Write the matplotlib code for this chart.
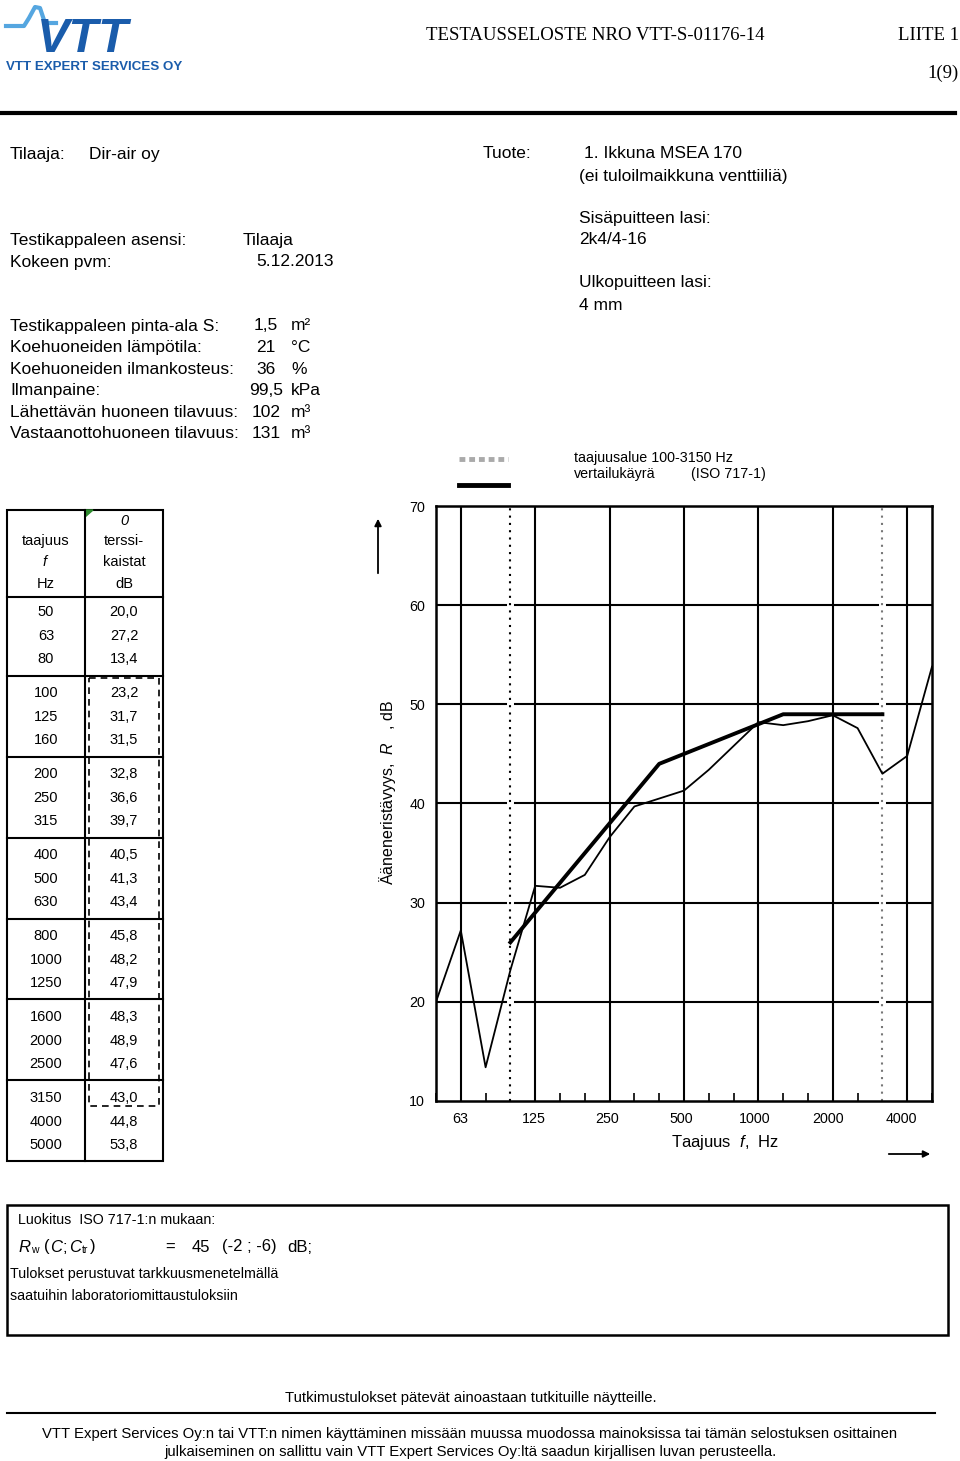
import matplotlib
matplotlib.use("Agg")
import matplotlib.pyplot as plt
from matplotlib.patches import Rectangle, Polygon

plt.rcParams['font.family'] = ['Liberation Sans', 'DejaVu Sans']
plt.rcParams['mathtext.fontset'] = 'custom'
plt.rcParams['mathtext.rm'] = 'Liberation Sans'
plt.rcParams['mathtext.it'] = 'Liberation Sans:italic'

# third-octave bands and measured sound reduction index
bands = [50, 63, 80, 100, 125, 160, 200, 250, 315, 400, 500, 630,
         800, 1000, 1250, 1600, 2000, 2500, 3150, 4000, 5000]
r_measured = [20.0, 27.2, 13.4, 23.2, 31.7, 31.5, 32.8, 36.6, 39.7, 40.5, 41.3,
              43.4, 45.8, 48.2, 47.9, 48.3, 48.9, 47.6, 43.0, 44.8, 53.8]
# shifted ISO 717-1 reference curve (Rw = 45), 100...3150 Hz
ref_bands = [100, 125, 160, 200, 250, 315, 400, 500, 630, 800, 1000, 1250,
             1600, 2000, 2500, 3150]
ref_values = [26, 29, 32, 35, 38, 41, 44, 45, 46, 47, 48, 49, 49, 49, 49, 49]
x_labels = [63, 125, 250, 500, 1000, 2000, 4000]
y_ticks = [10, 20, 30, 40, 50, 60, 70]
range_limits = [100, 3150]

info_left = [("Testikappaleen pinta-ala S:", "1,5", "m²"),
             ("Koehuoneiden lämpötila:", "21", "°C"),
             ("Koehuoneiden ilmankosteus:", "36", "%"),
             ("Ilmanpaine:", "99,5", "kPa"),
             ("Lähettävän huoneen tilavuus:", "102", "m³"),
             ("Vastaanottohuoneen tilavuus:", "131", "m³")]

W, H = 960, 1461
fig = plt.figure(figsize=(W / 100, H / 100), dpi=100)
fig.patch.set_facecolor('white')

# page overlay in pixel coordinates
pg = fig.add_axes([0, 0, 1, 1])
pg.set_xlim(0, W)
pg.set_ylim(H, 0)
pg.axis('off')

BODY = 12.5

def txt(x, y, s, size=BODY, **kw):
    kw.setdefault('va', 'center')
    pg.text(x, y, s, fontsize=size, **kw)

# logo
light_blue = '#55a6e0'
dark_blue = '#1a5cab'
pg.plot([6, 24, 29, 35, 40, 45, 56], [26, 26, 18, 7, 8, 23, 23], color=light_blue, lw=3)
pg.text(37, 39, "VTT", fontsize=35, fontweight='bold', style='italic', color=dark_blue,
        va='center', ha='left')
pg.text(6, 67, "VTT EXPERT SERVICES OY", fontsize=9.6, fontweight='bold', color=dark_blue,
        va='center')

# header
txt(426, 35, "TESTAUSSELOSTE NRO VTT-S-01176-14", size=13.5, family='Liberation Serif')
txt(959, 35, "LIITE 1", size=13.5, family='Liberation Serif', ha='right')
txt(959, 73, "1(9)", size=13.5, family='Liberation Serif', ha='right')
pg.plot([0, 955], [113, 113], color='black', lw=3)

# info block
txt(10, 154, "Tilaaja:")
txt(89, 154, "Dir-air oy")
txt(483, 154, "Tuote:")
txt(584, 154, "1. Ikkuna MSEA 170")
txt(579, 176, "(ei tuloilmaikkuna venttiiliä)")
txt(579, 219, "Sisäpuitteen lasi:")
txt(579, 240, "2k4/4-16")
txt(579, 283, "Ulkopuitteen lasi:")
txt(579, 305, "4 mm")
txt(10, 240, "Testikappaleen asensi:")
txt(243, 240, "Tilaaja")
txt(10, 262, "Kokeen pvm:")
txt(256, 262, "5.12.2013")
for i, (label, val, unit) in enumerate(info_left):
    y = 326 + i * 21.6
    txt(10, y, label)
    txt(266, y, val, ha='center')
    txt(291, y, unit)

# legend
pg.plot([459, 508], [459, 459], color='#aaaaaa', lw=3.5, ls=(0, (1.2, 0.8)))
pg.plot([459, 508], [485, 485], color='black', lw=3.5)
txt(574, 458, "taajuusalue 100-3150 Hz", size=10.3)
txt(574, 474, "vertailukäyrä", size=10.3)
txt(691, 474, "(ISO 717-1)", size=10.3)

# table
TS = 10.5
tcol = dict(color='black', lw=1.5)
pg.add_patch(Rectangle((7, 510), 156, 651, fill=False, **tcol))
pg.plot([85, 85], [510, 1161], **tcol)
for y in [597, 676, 757, 838, 919, 999, 1080]:
    pg.plot([7, 163], [y, y], **tcol)
pg.add_patch(Polygon([(85, 510), (93, 510), (85, 517)], color='#2e8b2e'))
pg.add_patch(Rectangle((89, 678), 70, 428, fill=False, ls=(0, (4, 3)), lw=1.2, ec='black'))
txt(46, 541, "taajuus", size=TS, ha='center')
txt(46, 562, "$f$", size=TS, ha='center')
txt(46, 584, "Hz", size=TS, ha='center')
txt(124, 521, "0", size=TS, ha='center', style='italic')
txt(124, 541, "terssi-", size=TS, ha='center')
txt(124, 562, "kaistat", size=TS, ha='center')
txt(124, 584, "dB", size=TS, ha='center')
for i, (f, r) in enumerate(zip(bands, r_measured)):
    y = 612 + (i // 3) * 81 + (i % 3) * 23.7
    txt(46, y, str(f), size=TS, ha='center')
    txt(124, y, f"{r:.1f}".replace('.', ','), size=TS, ha='center')

# chart
L, R, T, B = 436, 932, 506, 1101
ax = fig.add_axes([L / W, 1 - B / H, (R - L) / W, (B - T) / H])
idx = {f: i for i, f in enumerate(bands)}
ax.set_xlim(0, len(bands) - 1)
ax.set_ylim(10, 70)
for y in y_ticks[1:-1]:
    ax.axhline(y, color='black', lw=1.5, zorder=1)
for f in x_labels:
    ax.axvline(idx[f], color='black', lw=1.5, zorder=1)
for f in range_limits:
    ax.axvline(idx[f], color='white', lw=5, zorder=2)
ax.axvline(idx[100], color='black', lw=1.5, ls=(0, (1, 2.5)), zorder=3)
ax.axvline(idx[3150], color='#777777', lw=1.5, ls=(0, (1, 2.5)), zorder=3)
ax.plot([idx[f] for f in bands], r_measured, color='black', lw=1.3, zorder=4)
ax.plot([idx[f] for f in ref_bands], ref_values, color='black', lw=2.8, zorder=5)
for s in ax.spines.values():
    s.set_linewidth(1.8)
    s.set_zorder(6)
# small tick marks at every band, labels slightly compressed as in the original
ax.set_xticks(range(len(bands)), minor=True)
ax.tick_params(axis='x', which='minor', direction='in', length=6, width=1.2)
ax.set_xticks([idx[f] - 0.03 - 0.033 * k for k, f in enumerate(x_labels)])
ax.set_xticklabels([str(f) for f in x_labels], fontsize=10.3)
ax.tick_params(axis='x', which='major', length=0, pad=8)
ax.set_yticks(y_ticks)
ax.set_yticklabels([str(v) for v in y_ticks], fontsize=10.3)
ax.tick_params(axis='y', length=0, pad=8)

txt(387, 792, "Ääneneristävyys,  $R$   , dB", size=11.5, rotation=90, ha='center')
pg.annotate('', xy=(378, 516), xytext=(378, 576),
            arrowprops=dict(arrowstyle='-|>', color='black', lw=1.3, mutation_scale=10))
txt(725, 1143, "Taajuus  $f$,  Hz", size=12, ha='center')
pg.annotate('', xy=(933, 1154), xytext=(886, 1154),
            arrowprops=dict(arrowstyle='-|>', color='black', lw=1.3, mutation_scale=10))

# classification box
pg.add_patch(Rectangle((7, 1205), 941, 130, fill=False, lw=1.8, ec='black'))
txt(18, 1220, "Luokitus  ISO 717-1:n mukaan:", size=10.3)
txt(18, 1247, "$R$", size=12)
txt(31, 1250, "w", size=7.5)
txt(44, 1247, "(", size=12)
txt(50, 1247, "$C$", size=12)
txt(63, 1247, ";", size=12)
txt(69, 1247, "$C$", size=12)
txt(82, 1250, "tr", size=7.5)
txt(90, 1247, ")", size=12)
txt(165, 1247, "=", size=12)
txt(192, 1247, "45", size=12)
txt(222, 1247, "(-2 ; -6)", size=12)
txt(287, 1247, "dB;", size=12)
txt(10, 1274, "Tulokset perustuvat tarkkuusmenetelmällä", size=10.3)
txt(10, 1296, "saatuihin laboratoriomittaustuloksiin", size=10.3)

# footer
txt(471, 1398, "Tutkimustulokset pätevät ainoastaan tutkituille näytteille.", size=10.7, ha='center')
pg.plot([7, 935], [1413, 1413], color='black', lw=1.5)
txt(470, 1434, "VTT Expert Services Oy:n tai VTT:n nimen käyttäminen missään muussa muodossa "
    "mainoksissa tai tämän selostuksen osittainen", size=10.7, ha='center')
txt(470, 1452, "julkaiseminen on sallittu vain VTT Expert Services Oy:ltä saadun kirjallisen "
    "luvan perusteella.", size=10.7, ha='center')

fig.savefig('out.png', dpi=100)
